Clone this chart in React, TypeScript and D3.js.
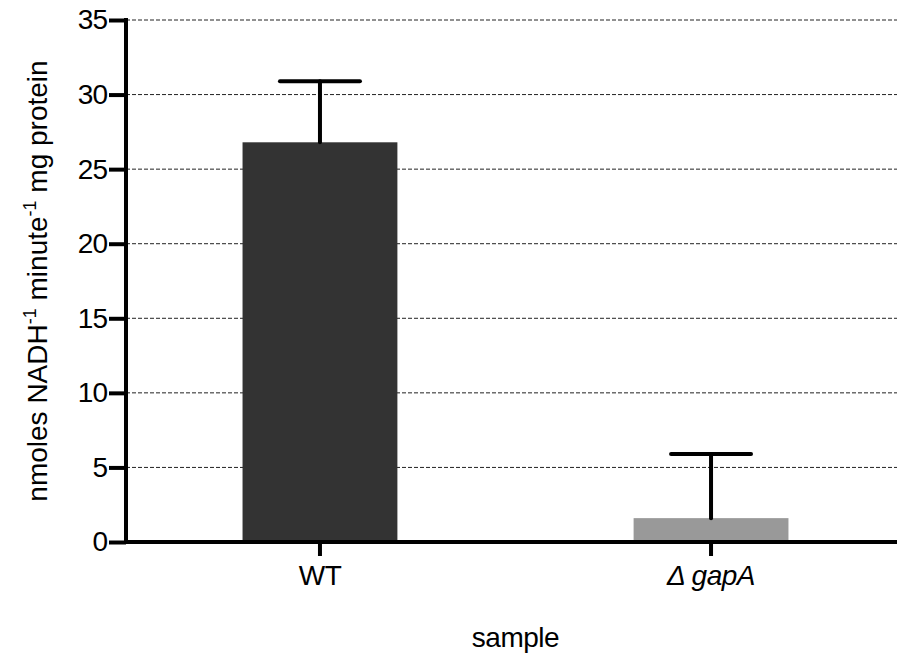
import { useEffect, useRef } from "react";
import * as d3 from "d3";

const categories = ["WT", "Δ gapA"];
const means = [26.8, 1.6];
const upperErrors = [4.1, 4.3];
const yTicks = [0, 5, 10, 15, 20, 25, 30, 35];
const barColors = ["#333333", "#999999"];

const App = () => {
  const svgRef = useRef<SVGSVGElement>(null);

  useEffect(() => {
    const width = 897;
    const height = 657;
    const margin = { top: 20, right: -8, bottom: 115, left: 126 };
    const font = "'Liberation Sans', Arial, sans-serif";

    const svg = d3.select(svgRef.current);
    svg.selectAll("*").remove();
    svg.attr("width", width).attr("height", height);

    const x = d3.scaleBand()
      .domain(categories)
      .range([margin.left, width - margin.right])
      .paddingInner(0.604)
      .paddingOuter(0.298);

    const y = d3.scaleLinear()
      .domain([0, 35])
      .range([height - margin.bottom, margin.top]);

    // dashed grid lines
    svg.append("g")
      .selectAll("line")
      .data(yTicks.filter((t) => t > 0))
      .join("line")
      .attr("x1", margin.left)
      .attr("x2", width)
      .attr("y1", (d) => y(d))
      .attr("y2", (d) => y(d))
      .attr("stroke", "#222")
      .attr("stroke-width", 1)
      .attr("stroke-dasharray", "4,2");

    const data = categories.map((c, i) => ({ c, mean: means[i], err: upperErrors[i], color: barColors[i] }));

    svg.append("g")
      .selectAll("rect")
      .data(data)
      .join("rect")
      .attr("x", (d) => x(d.c)!)
      .attr("y", (d) => y(d.mean))
      .attr("width", x.bandwidth())
      .attr("height", (d) => y(0) - y(d.mean))
      .attr("fill", (d) => d.color);

    // error bars (upper only)
    const eb = svg.append("g")
      .attr("stroke", "#000")
      .attr("stroke-width", 4)
      .attr("stroke-linecap", "round");
    const capHalf = 40;
    eb.selectAll(".v")
      .data(data)
      .join("line")
      .attr("x1", (d) => x(d.c)! + x.bandwidth() / 2)
      .attr("x2", (d) => x(d.c)! + x.bandwidth() / 2)
      .attr("y1", (d) => y(d.mean))
      .attr("y2", (d) => y(d.mean + d.err));
    eb.selectAll(".h")
      .data(data)
      .join("line")
      .attr("x1", (d) => x(d.c)! + x.bandwidth() / 2 - capHalf)
      .attr("x2", (d) => x(d.c)! + x.bandwidth() / 2 + capHalf)
      .attr("y1", (d) => y(d.mean + d.err))
      .attr("y2", (d) => y(d.mean + d.err));

    // y axis
    const yAxis = svg.append("g")
      .attr("transform", `translate(${margin.left},0)`)
      .call(d3.axisLeft(y).tickValues(yTicks).tickSize(17).tickPadding(2).tickSizeOuter(0));
    yAxis.select(".domain").attr("stroke-width", 4).attr("d", `M0,${y(35) - 2}V${y(0) + 2}`);
    yAxis.selectAll(".tick line").attr("stroke-width", 4);
    yAxis.selectAll(".tick text")
      .attr("font-family", font)
      .attr("font-size", 28)
      .attr("letter-spacing", -1)
      .attr("fill", "#000");

    // x axis
    const xAxis = svg.append("g")
      .attr("transform", `translate(0,${y(0)})`)
      .call(d3.axisBottom(x).tickSize(14).tickPadding(9).tickSizeOuter(0));
    xAxis.select(".domain").attr("stroke-width", 4).attr("d", `M${margin.left - 2},0H${width}`);
    xAxis.selectAll(".tick line").attr("stroke-width", 4);
    xAxis.selectAll(".tick text")
      .attr("font-family", font)
      .attr("font-size", 28)
      .attr("letter-spacing", -0.5)
      .attr("fill", "#000")
      .attr("font-style", (d) => (d === "WT" ? "normal" : "italic"));

    // axis titles
    svg.append("text")
      .attr("x", (margin.left + width - margin.right) / 2)
      .attr("y", 647)
      .attr("text-anchor", "middle")
      .attr("font-family", font)
      .attr("font-size", 28)
      .attr("letter-spacing", -0.5)
      .text("sample");

    const yt = svg.append("text")
      .attr("transform", `translate(47,${(y(0) + y(35)) / 2}) rotate(-90)`)
      .attr("text-anchor", "middle")
      .attr("font-family", font)
      .attr("font-size", 28);
    yt.append("tspan").text("nmoles NADH");
    yt.append("tspan").attr("font-size", 18).attr("dy", -11).text("-1");
    yt.append("tspan").attr("dy", 11).text(" minute");
    yt.append("tspan").attr("font-size", 18).attr("dy", -11).text("-1");
    yt.append("tspan").attr("dy", 11).text(" mg protein");
  }, []);

  return (
    <div style={{ position: "fixed", left: 0, top: 0, background: "#fff" }}>
      <svg ref={svgRef}></svg>
    </div>
  );
};

export default App;
